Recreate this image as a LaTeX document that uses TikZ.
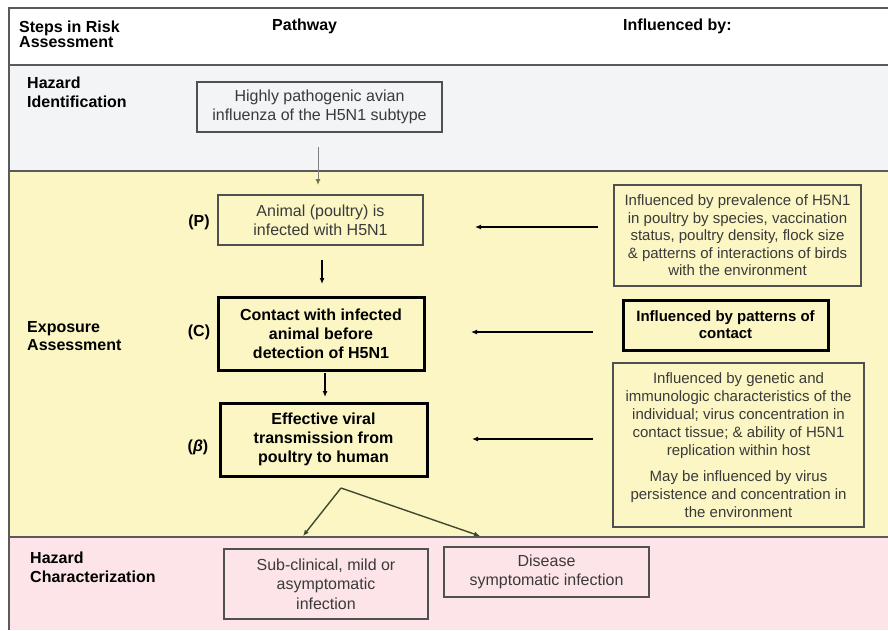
\documentclass[tikz,border=0pt]{standalone}
\usepackage{fontspec}
\setmainfont{Liberation Sans}
\usetikzlibrary{arrows.meta,calc}
\definecolor{bandgray}{HTML}{F3F4F6}
\definecolor{bandyellow}{HTML}{FBF6C4}
\definecolor{bandpink}{HTML}{FDE4E8}
\definecolor{framegray}{HTML}{5A5A5A}
\definecolor{boxgray}{HTML}{505050}
\definecolor{txtgray}{HTML}{3A3A3A}
\definecolor{olivetip}{HTML}{6B7A3A}
\definecolor{darkolive}{HTML}{3E4A2E}
\tikzset{
  thinbox/.style={draw=boxgray, line width=1.3pt, align=center, inner sep=0pt, text=txtgray, font=\fontsize{16}{19}\selectfont},
  thickbox/.style={draw=black, line width=3pt, align=center, inner sep=0pt, font=\bfseries\fontsize{16}{19}\selectfont},
  sidebox/.style={draw=boxgray, line width=1.3pt, align=center, inner sep=0pt, text=txtgray, font=\fontsize{15}{18}\selectfont},
  steplabel/.style={font=\bfseries\fontsize{16}{19}\selectfont, align=left, anchor=west, inner sep=0pt},
  headlabel/.style={font=\bfseries\fontsize{16}{15.5}\selectfont, align=left, anchor=west, inner sep=0pt},
  tag/.style={font=\bfseries\fontsize{16}{19}\selectfont, inner sep=0pt},
  arr/.style={-{Latex[length=6pt,width=5pt]}, line width=1.2pt},
  forkarr/.style={-{Latex[length=6pt,width=5pt]}, line width=1.4pt, draw=darkolive}
}
\begin{document}
\begin{tikzpicture}[x=1pt,y=-1pt]
\useasboundingbox (0,0) rectangle (888,630);
% bands
\fill[white] (0,0) rectangle (888,630);
\fill[bandgray] (9,65) rectangle (888,171);
\fill[bandyellow] (9,171) rectangle (888,537);
\fill[bandpink] (9,537) rectangle (888,630);
\draw[framegray, line width=1.6pt] (888,8) -- (9,8) -- (9,630);
\draw[framegray, line width=1.6pt] (9,65) -- (888,65);
\draw[framegray, line width=1.4pt] (9,171) -- (888,171);
\draw[framegray, line width=1.4pt] (9,537) -- (888,537);

% header
\node[headlabel] (hsteps) at (19,34.5) {Steps in Risk\\Assessment};
\node[headlabel] (hpath) at (272,26) {Pathway};
\node[headlabel] (hinfl) at (623,26) {Influenced by:};

% step labels
\node[steplabel] (lhaz) at (27,92.5) {Hazard\\Identification};
\node[steplabel, font=\bfseries\fontsize{16}{18}\selectfont] (lexp) at (27,336) {Exposure\\Assessment};
\node[steplabel] (lchar) at (30,567.5) {Hazard\\Characterization};

% pathway boxes
\node[thinbox, minimum width=245pt, minimum height=50pt] (haz) at (319.5,107) {Highly pathogenic avian\\influenza of the H5N1 subtype};
\node[thinbox, minimum width=205pt, minimum height=50pt] (pbox) at (320.5,220) {Animal (poultry) is\\infected with H5N1};
\node[thickbox, minimum width=206pt, minimum height=73pt] (cbox) at (321,333.5) {Contact with infected\\animal before\\detection of H5N1};
\node[thickbox, minimum width=207pt, minimum height=73pt] (bbox) at (323.5,439.5) {Effective viral\\transmission from\\poultry to human};
\node[thinbox, minimum width=204pt, minimum height=70pt, font=\fontsize{16}{19.5}\selectfont] (sub) at (326,584) {Sub-clinical, mild or\\asymptomatic\\infection};
\node[thinbox, minimum width=205pt, minimum height=50pt] (dis) at (546.5,572) {Disease\\symptomatic infection};

% tags
\node[tag] (tp) at (199,222) {(P)};
\node[tag] (tc) at (199,332) {(C)};
\node[tag] (tb) at (198,447) {(\textit{β})};

% influence boxes
\node[sidebox, minimum width=247pt, minimum height=101pt, font=\fontsize{15}{17.5}\selectfont] (inf1) at (737.5,235.5) {Influenced by prevalence of H5N1\\in poultry by species, vaccination\\status, poultry density, flock size\\\& patterns of interactions of birds\\with the environment};
\node[thickbox, minimum width=205pt, minimum height=50pt, font=\bfseries\fontsize{15}{17}\selectfont] (inf2) at (725.5,325) {Influenced by patterns of\\contact};
\node[sidebox, minimum width=251pt, minimum height=164pt] (inf3) at (738.5,445) {Influenced by genetic and\\immunologic characteristics of the\\individual; virus concentration in\\contact tissue; \& ability of H5N1\\replication within host\\[8pt]May be influenced by virus\\persistence and concentration in\\the environment};

% arrow end points
\coordinate (a1s) at (318,147);
\coordinate (a1e) at (318,185);
\coordinate (a2s) at (322,260);
\coordinate (a2e) at (322,284);
\coordinate (a3s) at (325,373);
\coordinate (a3e) at (325,397);
\coordinate (i1s) at (598,227);
\coordinate (i1e) at (475,227);
\coordinate (i2s) at (593,332);
\coordinate (i2e) at (471,332);
\coordinate (i3s) at (593,439);
\coordinate (i3e) at (472,439);
\coordinate (fork) at (341,488);
\coordinate (fl) at (303,536);
\coordinate (fr) at (480,536);

% arrows
\draw[-{Latex[length=6pt,width=5pt,color=olivetip]}, line width=1pt, draw=gray] (a1s) -- (a1e);
\draw[arr] (a2s) -- (a2e);
\draw[arr] (a3s) -- (a3e);
\draw[arr] (i1s) -- (i1e);
\draw[arr] (i2s) -- (i2e);
\draw[arr] (i3s) -- (i3e);
\draw[forkarr] (fork) -- (fl);
\draw[forkarr] (fork) -- (fr);
\end{tikzpicture}
\end{document}
